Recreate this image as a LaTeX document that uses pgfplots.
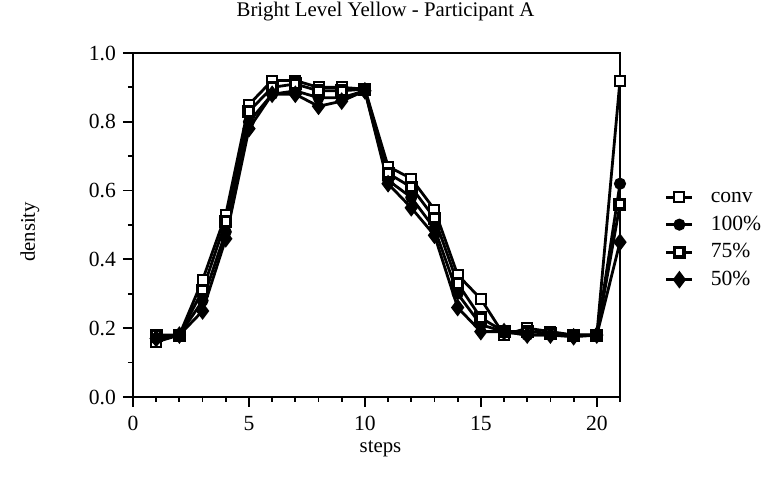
\documentclass[border=0pt]{standalone}
\usepackage{pgfplots}
\pgfplotsset{compat=1.18}
\usetikzlibrary{calc}
\usepackage{fontspec}
\setmainfont{Liberation Serif}
\begin{document}
\begin{tikzpicture}
\begin{axis}[
  name=ax,
  scale only axis,
  width=243.5pt, height=172pt,
  xmin=0, xmax=21, ymin=0, ymax=1,
  xtick={0,5,10,15,20},
  minor xtick={1,2,3,4,6,7,8,9,11,12,13,14,16,17,18,19,21},
  ytick={0,0.2,0.4,0.6,0.8,1.0},
  minor ytick={0.1,0.3,0.5,0.7,0.9},
  yticklabel style={/pgf/number format/.cd,fixed,fixed zerofill,precision=1},
  /pgf/number format/assume math mode=true,
  tick align=outside,
  major tick length=5pt, minor tick length=2.5pt,
  tick style={black, line width=0.9pt},
  axis line style={line width=0.9pt},
  xtick pos=bottom, ytick pos=left,
  ticklabel style={font=\fontsize{10.8}{12}\selectfont},
  xticklabel style={yshift=-1pt},
  clip=false,
  legend style={draw=none, fill=none, font=\fontsize{10.8}{12}\selectfont,
    at={(1,0.461)}, anchor=west, xshift=22.5pt,
    inner sep=0pt, outer sep=0pt, row sep=2.25pt,
    nodes={text height=7.5pt, text depth=2pt, inner sep=1pt},
    /tikz/every odd column/.append style={column sep=7.5pt}},
  legend cell align=left,
  legend image code/.code={\draw[mark repeat=2,mark phase=2] plot coordinates {(0pt,0pt)(6.5pt,0pt)(13pt,0pt)};},
  every axis plot/.append style={line width=1.4pt, black},
]
\addplot[mark=square*, mark size=2.5pt, mark options={fill=white, line width=1pt}] coordinates {
(1,0.16)(2,0.18)(3,0.34)(4,0.53)(5,0.85)(6,0.92)(7,0.92)(8,0.90)(9,0.90)(10,0.895)(11,0.67)(12,0.635)(13,0.545)(14,0.355)(15,0.285)(16,0.18)(17,0.20)(18,0.19)(19,0.18)(20,0.18)(21,0.92)};
\addlegendentry{conv}
\addplot[mark=*, mark size=2.3pt, mark options={fill=black}] coordinates {
(1,0.17)(2,0.18)(3,0.28)(4,0.48)(5,0.80)(6,0.88)(7,0.89)(8,0.87)(9,0.87)(10,0.89)(11,0.63)(12,0.58)(13,0.49)(14,0.30)(15,0.21)(16,0.19)(17,0.18)(18,0.18)(19,0.18)(20,0.18)(21,0.62)};
\addlegendentry{100\%}
\addplot[mark=square*, mark size=2.4pt, mark options={fill=white, line width=1.7pt}] coordinates {
(1,0.18)(2,0.18)(3,0.31)(4,0.51)(5,0.83)(6,0.90)(7,0.91)(8,0.89)(9,0.89)(10,0.895)(11,0.65)(12,0.61)(13,0.52)(14,0.33)(15,0.23)(16,0.19)(17,0.19)(18,0.185)(19,0.18)(20,0.18)(21,0.56)};
\addlegendentry{75\%}
\addplot[mark=diamond*, mark size=3.3pt, mark options={fill=black}] coordinates {
(1,0.17)(2,0.18)(3,0.25)(4,0.46)(5,0.78)(6,0.88)(7,0.88)(8,0.845)(9,0.86)(10,0.89)(11,0.62)(12,0.55)(13,0.47)(14,0.26)(15,0.19)(16,0.19)(17,0.18)(18,0.18)(19,0.175)(20,0.18)(21,0.45)};
\addlegendentry{50\%}
\node[font=\fontsize{10.4}{12}\selectfont, anchor=center, inner sep=0pt] at ($(rel axis cs:0.5,1)+(4.5pt,20.5pt)$) {Bright Level Yellow - Participant A};
\node[font=\fontsize{10.4}{12}\selectfont, anchor=center, inner sep=0pt] at ($(rel axis cs:0.5,0)+(2pt,-26pt)$) {steps};
\node[font=\fontsize{10.4}{12}\selectfont, anchor=center, rotate=90, inner sep=0pt] at ($(rel axis cs:0,0.48)+(-51.5pt,0pt)$) {density};
\end{axis}
\path (ax.south west) ++(-66.5pt,-41pt) coordinate (bl);
\path ($(ax.north east)+(73.5pt,26.5pt)$) coordinate (tr);
\path (bl) rectangle (tr);
\end{tikzpicture}
\end{document}
